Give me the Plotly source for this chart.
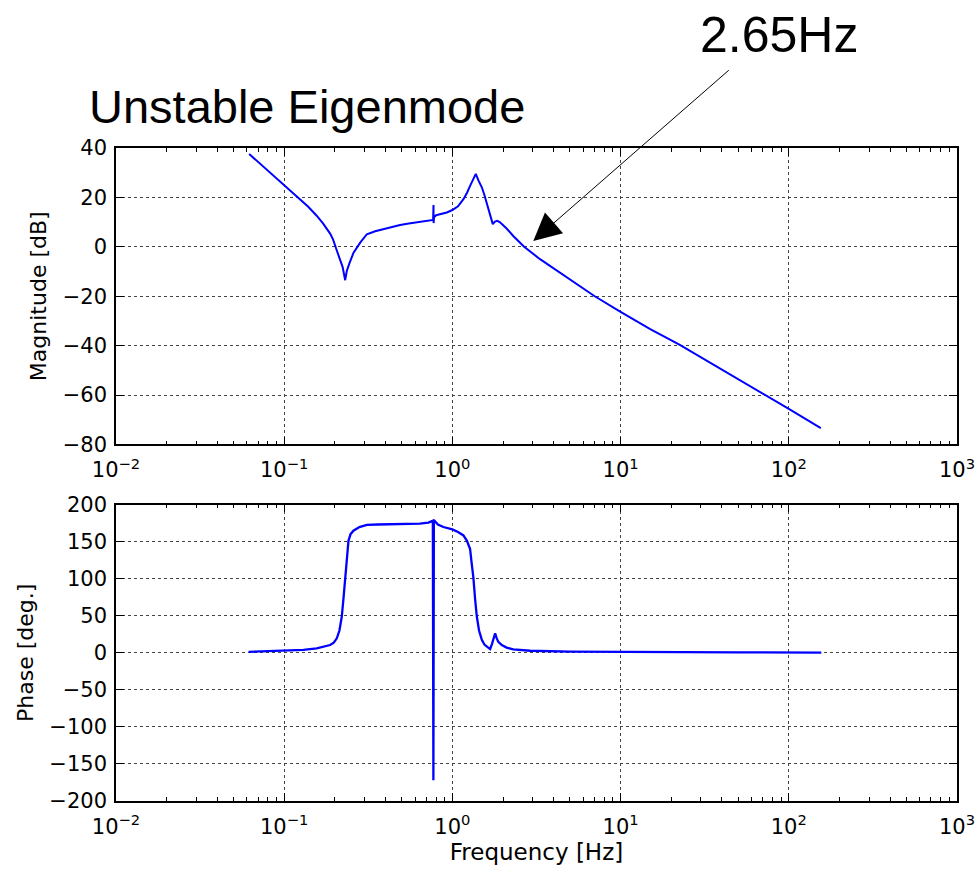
import plotly.graph_objects as go
from plotly.subplots import make_subplots

# ---------------- data ----------------
mag_freq = [0.0619, 0.0789, 0.099, 0.111, 0.1245, 0.139, 0.156, 0.1705, 0.1875,
            0.1954, 0.2055, 0.2148, 0.2226, 0.2304, 0.2355, 0.2444, 0.258, 0.283,
            0.310, 0.3475, 0.389, 0.44, 0.489, 0.55, 0.614, 0.69, 0.768, 0.772,
            0.773, 0.778, 0.80, 0.85, 0.926, 1.0, 1.08, 1.163, 1.22, 1.274, 1.33,
            1.377, 1.43, 1.496, 1.55, 1.60, 1.67, 1.738, 1.79, 1.85, 1.92, 2.10,
            2.30, 2.67, 3.32, 4.37, 5.5, 6.98, 10.0, 15.0, 22.5, 33.0, 46.8, 70.5,
            100.0, 155.0]
mag_db = [37.6, 31.2, 25.4, 22.3, 19.3, 16.2, 12.6, 9.4, 5.35,
          2.9, -1.5, -4.8, -8.2, -13.5, -9.8, -6.6, -2.5, 1.7,
          5.1, 6.3, 7.2, 8.1, 8.8, 9.4, 9.9, 10.4, 10.9, 16.9,
          9.6, 12.0, 12.8, 13.3, 13.9, 14.9, 16.4, 19.3, 21.8, 24.7, 27.3,
          29.5, 26.8, 24.1, 21.0, 18.0, 13.5, 9.2, 10.2, 10.5, 9.9, 7.4,
          4.4, 0.0, -5.0, -10.4, -15.2, -19.9, -26.3, -33.3, -39.7, -46.3, -52.3,
          -59.5, -65.6, -73.4]

ph_freq = [0.0614, 0.1, 0.13, 0.156, 0.1875, 0.197, 0.2055, 0.213, 0.220, 0.2255,
           0.2304, 0.236, 0.241, 0.248, 0.258, 0.28, 0.31, 0.36, 0.40, 0.50, 0.64,
           0.72, 0.765, 0.771, 0.776, 0.79, 0.82, 0.884, 0.94, 1.0, 1.08, 1.163,
           1.22, 1.274, 1.30, 1.333, 1.365, 1.397, 1.44, 1.496, 1.55, 1.60, 1.676,
           1.72, 1.76, 1.795, 1.83, 1.875, 1.966, 2.10, 2.30, 2.90, 5.0, 10.0,
           50.0, 156.0]
ph_deg = [1.3, 2.3, 3.8, 6.0, 10.4, 13.5, 19.5, 30.0, 48.9, 75.0,
          101.0, 130.0, 151.0, 160.0, 164.6, 169.5, 172.4, 173.0, 173.2, 173.6, 174.2,
          175.5, 178.0, -172.0, 179.0, 177.0, 173.0, 169.6, 167.8, 166.4, 163.0, 158.3,
          151.0, 140.0, 122.0, 101.0, 72.0, 48.9, 30.0, 17.3, 11.0, 8.0, 5.0,
          12.0, 22.0, 26.3, 20.0, 14.7, 10.4, 7.0, 4.6, 2.7, 1.5, 1.0,
          0.5, 0.3]

x_tickvals = [0.01, 0.1, 1, 10, 100, 1000]
x_ticktext = ["10<sup>\u22122</sup>", "10<sup>\u22121</sup>", "10<sup>0</sup>",
              "10<sup>1</sup>", "10<sup>2</sup>", "10<sup>3</sup>"]
x_minor = [k * 10.0 ** e for e in range(-2, 3) for k in range(2, 10)]

title_text = "Unstable Eigenmode"
note_text = "2.65Hz"
# ---------------------------------------------------------------

LINE = "#0000ff"
TICKFONT = dict(family="DejaVu Sans", size=21, color="black")

fig = make_subplots(rows=2, cols=1, vertical_spacing=0.0919)

fig.add_trace(go.Scatter(x=mag_freq, y=mag_db, mode="lines",
                         line=dict(color=LINE, width=2), showlegend=False), row=1, col=1)
fig.add_trace(go.Scatter(x=ph_freq, y=ph_deg, mode="lines",
                         line=dict(color=LINE, width=2.3), showlegend=False), row=2, col=1)

common_x = dict(type="log", range=[-2, 3], tickmode="array", tickvals=x_tickvals,
                ticktext=x_ticktext, showgrid=True, gridcolor="#444444", griddash="dot",
                gridwidth=1, ticks="inside", ticklen=8, tickcolor="black",
                showline=True, linecolor="black", linewidth=1.5, mirror="ticks",
                tickfont=TICKFONT, zeroline=False, ticklabelstandoff=6,
                automargin=False,
                minor=dict(tickmode="array", tickvals=x_minor, ticks="inside",
                           ticklen=4, tickcolor="black", showgrid=False))
common_y = dict(showgrid=True, gridcolor="#444444", griddash="dot", gridwidth=1,
                ticks="inside", ticklen=8, tickcolor="black", showline=True,
                linecolor="black", linewidth=1.5, mirror="ticks", tickfont=TICKFONT,
                zeroline=False, ticklabelstandoff=3, automargin=False)

fig.update_xaxes(**common_x, row=1, col=1)
fig.update_xaxes(**common_x, row=2, col=1,
                 title=dict(text="Frequency [Hz]",
                            font=dict(family="DejaVu Sans", size=23, color="black"),
                            standoff=4))
fig.update_yaxes(**common_y, row=1, col=1, range=[-80, 40], dtick=20,
                 title=dict(text="Magnitude [dB]",
                            font=dict(family="DejaVu Sans", size=22, color="black"),
                            standoff=10))
fig.update_yaxes(**common_y, row=2, col=1, range=[-200, 200], dtick=50,
                 title=dict(text="Phase [deg.]",
                            font=dict(family="DejaVu Sans", size=22, color="black"),
                            standoff=10))

fig.add_annotation(text=title_text, xref="paper", yref="paper", x=-0.0345, y=1.063,
                   xanchor="left", yanchor="middle", showarrow=False,
                   font=dict(family="Liberation Sans", size=47, color="black"))
fig.add_annotation(text=note_text, xref="paper", yref="paper", x=0.7885, y=1.173,
                   xanchor="center", yanchor="middle", showarrow=False,
                   font=dict(family="Liberation Sans", size=50, color="black"))
fig.add_annotation(text="", xref="x", yref="y", x=0.481, y=2.4,
                   ax=197, ay=-172, showarrow=True, arrowhead=2, arrowsize=5.5,
                   arrowwidth=1, arrowcolor="black")

fig.update_layout(width=979, height=870, paper_bgcolor="white", plot_bgcolor="white",
                  margin=dict(l=116, r=22, t=148, b=69),
                  font=dict(family="DejaVu Sans", color="black"))

# remove the default 8px page margin so the figure fills the window exactly
fig.write_html("out.html",
               config={"displayModeBar": False},
               post_script="document.body.style.margin='0';"
                           "document.body.style.overflow='hidden';")
